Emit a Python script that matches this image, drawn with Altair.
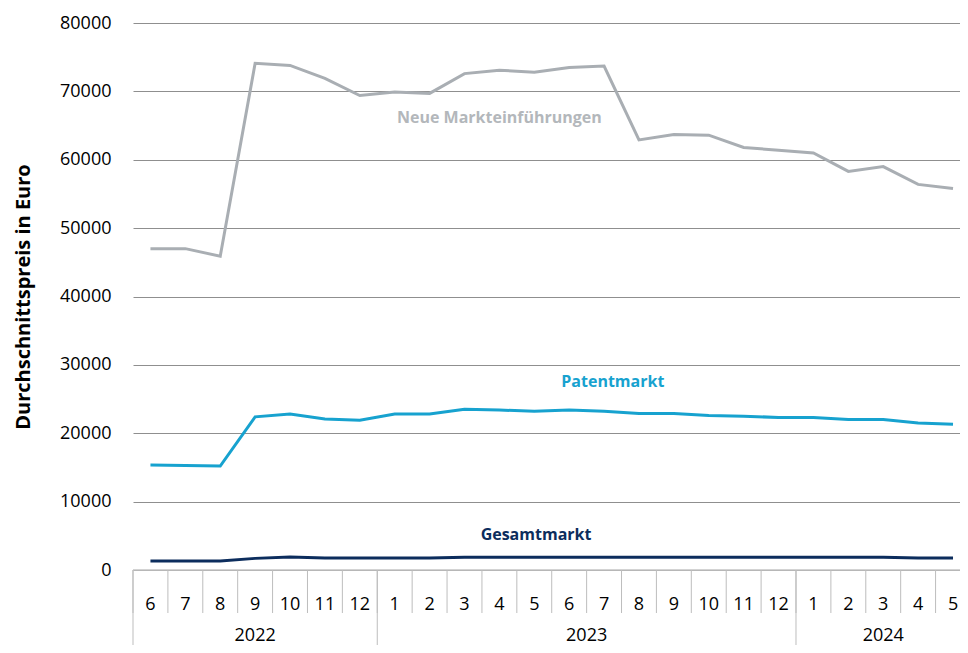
import altair as alt
import pandas as pd

# ---- data ----
years = [2022] * 7 + [2023] * 12 + [2024] * 5
months = [6, 7, 8, 9, 10, 11, 12,
          1, 2, 3, 4, 5, 6, 7, 8, 9, 10, 11, 12,
          1, 2, 3, 4, 5]
neue = [47000, 47000, 45900, 74100, 73800, 71900, 69400,
        69900, 69700, 72600, 73100, 72800, 73500, 73700, 62900, 63700, 63600, 61800, 61400,
        61000, 58300, 59000, 56400, 55800]
patent = [15350, 15300, 15200, 22400, 22800, 22100, 21900,
          22800, 22800, 23500, 23400, 23200, 23400, 23200, 22900, 22900, 22600, 22500, 22300,
          22300, 22000, 22000, 21500, 21300]
gesamt = [1300, 1300, 1300, 1700, 1900, 1750, 1750,
          1750, 1750, 1850, 1850, 1850, 1850, 1850, 1850, 1850, 1850, 1850, 1850,
          1850, 1850, 1850, 1750, 1750]

series_names = ["Neue Markteinführungen", "Patentmarkt", "Gesamtmarkt"]
series_colors = ["#a9aeb3", "#17a2cf", "#0c2d5d"]
label_colors = ["#b3b7bb", "#17a2cf", "#0c2d5d"]
label_x = [10.5, 13.75, 11.55]
label_y = [66100, 27500, 5100]

y_ticks = [0, 10000, 20000, 30000, 40000, 50000, 60000, 70000, 80000]

# ---- tables ----
n = len(months)
rows = []
for name, vals in zip(series_names, [neue, patent, gesamt]):
    for i, v in enumerate(vals):
        rows.append({"pos": i + 0.5, "value": v, "series": name})
df = pd.DataFrame(rows)

month_df = pd.DataFrame({"pos": [i + 0.5 for i in range(n)], "label": [str(m) for m in months]})
month_div = pd.DataFrame({"pos": list(range(n + 1))})

year_list = []
for y in years:
    if y not in year_list:
        year_list.append(y)
year_start = [years.index(y) for y in year_list]
year_end = [len(years) - years[::-1].index(y) for y in year_list]
year_df = pd.DataFrame({"pos": [(a + b) / 2 for a, b in zip(year_start, year_end)],
                        "label": [str(y) for y in year_list]})
year_div = pd.DataFrame({"pos": year_start + [n]})

labels_df = pd.DataFrame({"pos": label_x, "value": label_y, "series": series_names})

FONT = "Open Sans"
W, H = 827, 547
xscale = alt.Scale(domain=[0, 23.70], nice=False, zero=False)
yscale = alt.Scale(domain=[0, 80000], nice=False)

lines = alt.Chart(df).mark_line(strokeWidth=3).encode(
    x=alt.X("pos:Q", scale=xscale, axis=None),
    y=alt.Y("value:Q", scale=yscale,
            axis=alt.Axis(values=y_ticks, format="d", grid=True, gridColor="#8f8f8f", gridWidth=1,
                          ticks=False, domain=False, labelFont=FONT, labelFontSize=18,
                          labelColor="#000000", labelPadding=22,
                          title="Durchschnittspreis in Euro", titleFont=FONT,
                          titleFontSize=20, titleFontWeight="bold", titleColor="#000000",
                          titlePadding=26)),
    color=alt.Color("series:N", scale=alt.Scale(domain=series_names, range=series_colors),
                    legend=None),
)

baseline = alt.Chart(pd.DataFrame({"value": [0]})).mark_rule(color="#c4c4c4", strokeWidth=1.5).encode(
    y=alt.Y("value:Q", scale=yscale), x=alt.value(0), x2=alt.value(W)
)

texts = alt.Chart(labels_df).mark_text(font=FONT, fontSize=16, fontWeight="bold").encode(
    x=alt.X("pos:Q", scale=xscale),
    y=alt.Y("value:Q", scale=yscale),
    text="series:N",
    color=alt.Color("series:N", scale=alt.Scale(domain=series_names, range=label_colors),
                    legend=None),
)

mdiv = alt.Chart(month_div).mark_rule(color="#bdbdbd", strokeWidth=1).encode(
    x=alt.X("pos:Q", scale=xscale), y=alt.value(H), y2=alt.value(H + 43)
)
ydiv = alt.Chart(year_div).mark_rule(color="#bdbdbd", strokeWidth=1).encode(
    x=alt.X("pos:Q", scale=xscale), y=alt.value(H), y2=alt.value(H + 80)
)
mlab = alt.Chart(month_df).mark_text(font=FONT, fontSize=18, color="#000000").encode(
    x=alt.X("pos:Q", scale=xscale), y=alt.value(H + 35), text="label:N"
)
ylab = alt.Chart(year_df).mark_text(font=FONT, fontSize=18, color="#000000", baseline="bottom").encode(
    x=alt.X("pos:Q", scale=xscale), y=alt.value(H + 75), text="label:N"
)

chart = alt.layer(lines, baseline, texts, mdiv, ydiv, mlab, ylab).properties(
    width=W, height=H,
    autosize=alt.AutoSizeParams(type="none"),
    padding={"left": 125, "top": 15, "right": 0, "bottom": 75},
).configure_view(stroke=None).resolve_scale(color="independent")

chart.save("out.html", embed_options={"renderer": "svg", "actions": False})
